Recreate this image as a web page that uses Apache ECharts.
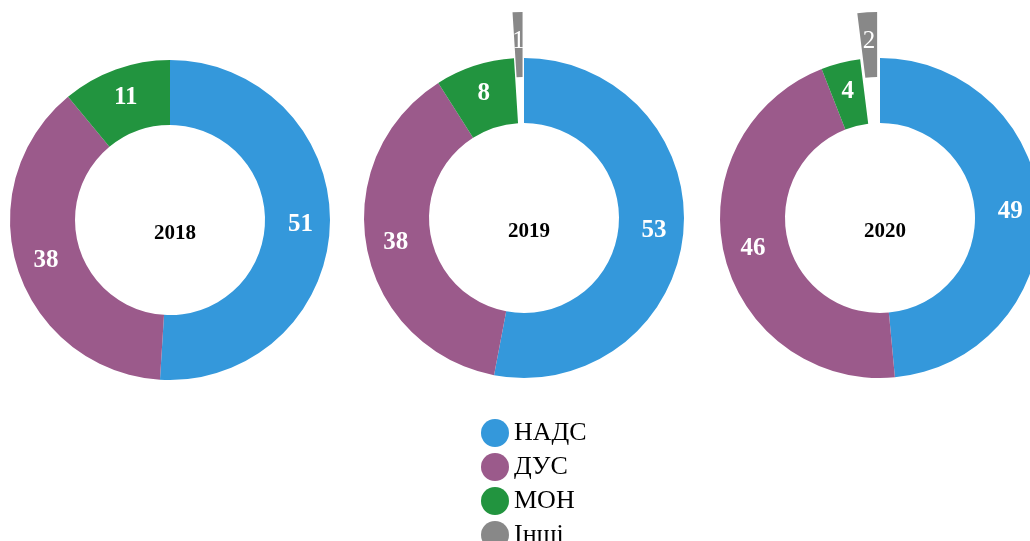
<!DOCTYPE html>
<html>
<head>
<meta charset="utf-8">
<script src="https://cdn.jsdelivr.net/npm/echarts@6/dist/echarts.min.js"></script>
<style>html,body{margin:0;padding:0;background:#fff;}#c{width:1030px;height:541px;}</style>
</head>
<body>
<div id="c"></div>
<script>
const categories = ['НАДС', 'ДУС', 'МОН', 'Інші'];
const years = ['2018', '2019', '2020'];
const nads = [51, 53, 49];
const dus = [38, 38, 46];
const mon = [11, 8, 4];
const other = [0, 1, 2];

const colors = ['#3498db', '#9b5a8b', '#22943f', '#888888'];
const centers = [[170, 220], [524, 218], [880, 218]];
const FONT = '"Liberation Serif", "Times New Roman", serif';

const chart = echarts.init(document.getElementById('c'));
const series = years.map((y, i) => ({
  type: 'pie',
  name: y,
  center: centers[i],
  radius: [95, 160],
  startAngle: 90,
  clockwise: true,
  selectedMode: true,
  selectedOffset: 46,
  avoidLabelOverlap: false,
  label: {
    show: true,
    position: 'inside',
    formatter: p => p.value > 0 ? String(p.value) : '',
    color: '#fff',
    fontFamily: FONT,
    fontWeight: 'bold',
    fontSize: 25
  },
  labelLine: { show: false },
  itemStyle: { borderWidth: 0 },
  emphasis: { disabled: true },
  data: [
    { name: categories[0], value: nads[i] },
    { name: categories[1], value: dus[i] },
    { name: categories[2], value: mon[i] },
    { name: categories[3], value: other[i], selected: other[i] > 0,
      label: { fontWeight: 'normal' } }
  ]
}));

chart.setOption({
  animation: false,
  color: colors,
  title: years.map((y, i) => ({
    text: y,
    left: centers[i][0],
    top: centers[i][1] + 9,
    textAlign: 'center',
    textVerticalAlign: 'middle',
    textStyle: { fontFamily: FONT, fontWeight: 'bold', fontSize: 21, color: '#000' }
  })),
  legend: {
    orient: 'vertical',
    left: 476,
    top: 414,
    height: 300,
    icon: 'circle',
    itemWidth: 28,
    itemHeight: 28,
    itemGap: 6,
    selectedMode: false,
    data: categories,
    textStyle: { fontFamily: FONT, fontSize: 26, color: '#000' }
  },
  series: series
});
</script>
</body>
</html>
